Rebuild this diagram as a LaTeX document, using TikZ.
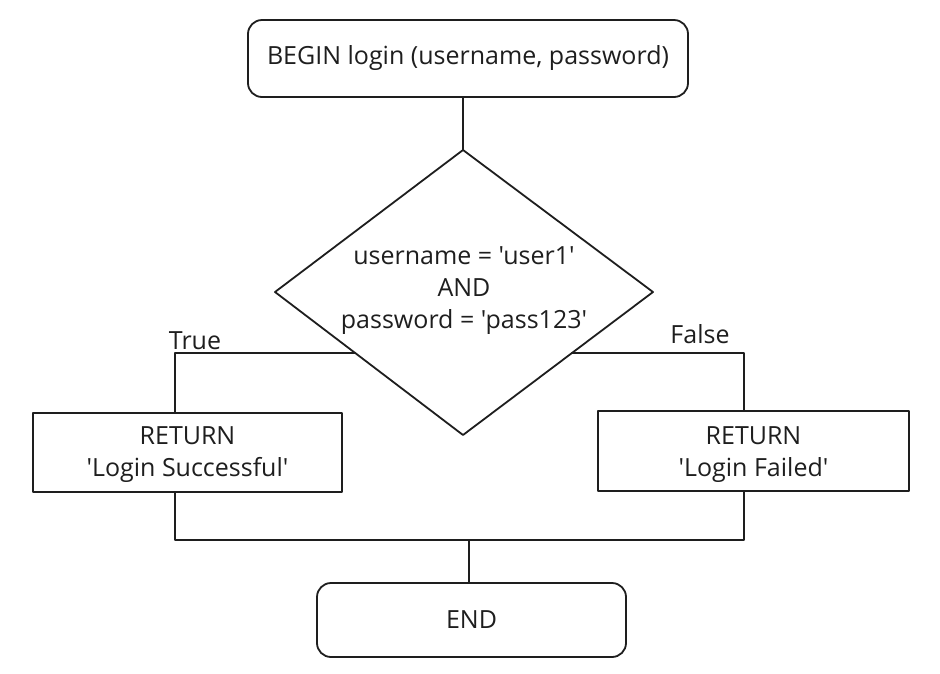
\documentclass[tikz,border=0pt]{standalone}
\usepackage{fontspec}
\setmainfont{Open Sans}[Ligatures=TeXOff]
\usetikzlibrary{calc}
\definecolor{ink}{HTML}{1E1E1E}
\begin{document}
\begin{tikzpicture}[x=1pt,y=-1pt,
  every node/.style={font=\fontsize{25}{32}\selectfont, text=ink},
  line/.style={draw=ink, line width=1.8pt,line cap=round,line join=round},
  term/.style={line, rounded corners=14pt, inner sep=0pt},
  proc/.style={line, inner sep=0pt},
  txt/.style={inner sep=0pt, align=center},
  lbl/.style={inner sep=0pt}]
\useasboundingbox (0,0) rectangle (940,673);
\node[term, minimum width=440pt, minimum height=77pt] (begin) at (468,58.5) {BEGIN login (username, password)};
\coordinate (dtop) at (463,150);
\coordinate (dleft) at (275,292);
\coordinate (dright) at (653,292);
\coordinate (dbot) at (463,435);
\draw[line] (dtop) -- (dright) -- (dbot) -- (dleft) -- cycle;
\node[txt] (dec) at (464,291) {username = 'user1'\\AND\\password = 'pass123'};
\node[proc, minimum width=309pt, minimum height=79pt] (ls) at (187.5,452.5) {};
\node[txt] (lst) at (187.5,455) {RETURN\\'Login Successful'};
\node[proc, minimum width=311pt, minimum height=80pt] (rs) at (753.5,451) {};
\node[txt] (rst) at (753.5,455) {RETURN\\'Login Failed'};
\node[term, minimum width=309pt, minimum height=74pt] (end) at (471.5,620) {END};
\node[lbl] (tlab) at (195,341) {True};
\node[lbl] (flab) at (700,334) {False};
\coordinate (tl) at ($(dleft)!0.4266!(dbot)$);
\coordinate (tr) at ($(dright)!0.4266!(dbot)$);
\coordinate (jl) at (175,540);
\coordinate (jr) at (744,540);
\coordinate (jm) at (469,540);
\draw[line] (begin.south -| dtop) -- (dtop);
\draw[line] (tl) -| (jl |- ls.north);
\draw[line] (tr) -| (jr |- rs.north);
\draw[line] (jl |- ls.south) -- (jl) -- (jr) -- (jr |- rs.south);
\draw[line] (jm) -- (jm |- end.north);
\end{tikzpicture}
\end{document}
